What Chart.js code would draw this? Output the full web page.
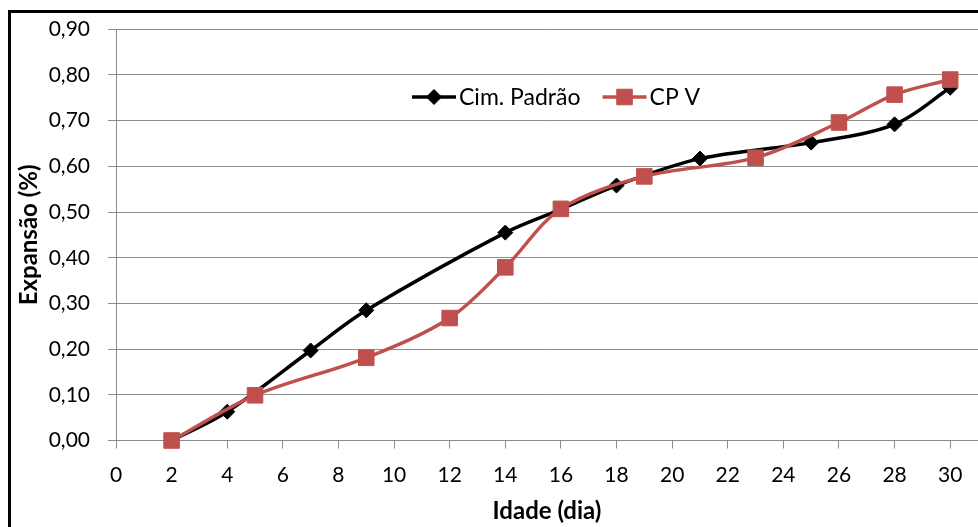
<!DOCTYPE html>
<html>
<head>
<meta charset="utf-8">
<title>Expansão x Idade</title>
<script src="https://cdn.jsdelivr.net/npm/chart.js@4.4.0/dist/chart.umd.min.js"></script>
<style>
html, body { margin: 0; padding: 0; background: #fff; overflow: hidden; }
#moldura { position: absolute; left: 8px; top: 10px; width: 1000px; height: 560px; border-left: 3px solid #000; border-top: 3px solid #000; }
#grafico { position: absolute; left: 0; top: 0; }
</style>
</head>
<body>
<div id="moldura"><canvas id="grafico" width="979" height="520"></canvas></div>
<script>
/* Curvas de expansão (%) pela idade (dias) dos dois cimentos */

// Cim. Padrão
var idadePadrao = [2, 4, 7, 9, 14, 16, 18, 21, 25, 28, 30];
var expansaoPadrao = [0.000, 0.063, 0.197, 0.285, 0.455, 0.506, 0.558, 0.617, 0.652, 0.692, 0.772];

// CP V
var idadeCPV = [2, 5, 9, 12, 14, 16, 19, 23, 26, 28, 30];
var expansaoCPV = [0.000, 0.099, 0.181, 0.268, 0.379, 0.507, 0.578, 0.619, 0.696, 0.757, 0.790];

var nomesSeries = ['Cim. Padrão', 'CP V'];
var ticksIdade = [0, 2, 4, 6, 8, 10, 12, 14, 16, 18, 20, 22, 24, 26, 28, 30];
var tituloX = 'Idade (dia)';
var tituloY = 'Expansão (%)';

var corCinza = '#8c8c8c';
var fonte = 'Lato';

function pontos(xs, ys) {
	var res = [];
	for (var i = 0; i < xs.length; i++) {
		res.push({ x: xs[i], y: ys[i] });
	}
	return res;
}

// legenda desenhada dentro da área do gráfico (linha + marcador + texto)
var legendaInterna = {
	id: 'legendaInterna',
	afterDraw: function (chart) {
		var ctx = chart.ctx;
		var x = 401;
		var y = 84;
		ctx.save();
		ctx.font = '23px ' + fonte;
		ctx.textBaseline = 'middle';
		ctx.textAlign = 'left';
		chart.data.datasets.forEach(function (ds) {
			ctx.strokeStyle = ds.borderColor;
			ctx.lineWidth = ds.borderWidth;
			ctx.beginPath();
			ctx.moveTo(x, y);
			ctx.lineTo(x + 44, y);
			ctx.stroke();
			ctx.fillStyle = ds.pointBackgroundColor;
			ctx.strokeStyle = ds.pointBorderColor;
			ctx.lineWidth = 1;
			Chart.helpers.drawPoint(ctx, { pointStyle: ds.pointStyle, radius: ds.pointRadius, borderWidth: 1, rotation: 0 }, x + 22, y);
			ctx.fillStyle = '#000';
			ctx.fillText(ds.label, x + 47, y + 1);
			x += 47 + ctx.measureText(ds.label).width + 22;
		});
		ctx.restore();
	}
};

var config = {
	type: 'line',
	data: {
		datasets: [{
			label: nomesSeries[0],
			data: pontos(idadePadrao, expansaoPadrao),
			borderColor: '#000',
			borderWidth: 3.5,
			pointStyle: 'rectRot',
			pointRadius: 7.5,
			pointBackgroundColor: '#000',
			pointBorderColor: '#000',
			pointBorderWidth: 1,
			tension: 0.33,
			clip: false,
			order: 1
		}, {
			label: nomesSeries[1],
			data: pontos(idadeCPV, expansaoCPV),
			borderColor: '#c0504d',
			borderWidth: 3.5,
			pointStyle: 'rect',
			pointRadius: 11,
			pointBackgroundColor: '#c0504d',
			pointBorderColor: '#c0504d',
			pointBorderWidth: 1,
			tension: 0.33,
			clip: false,
			order: 0
		}]
	},
	options: {
		responsive: false,
		animation: false,
		layout: { padding: { top: 16.3, right: 0, bottom: 0, left: 0 } },
		plugins: {
			legend: { display: false },
			tooltip: { enabled: false }
		},
		scales: {
			x: {
				type: 'linear',
				min: 0,
				max: 31,
				afterBuildTicks: function (scale) {
					scale.ticks = ticksIdade.map(function (v) { return { value: v }; });
				},
				afterFit: function (scale) { scale.height = 92.5; },
				grid: { drawOnChartArea: false, drawTicks: true, tickLength: 8, color: corCinza, tickColor: corCinza },
				border: { display: true, color: corCinza, width: 1 },
				ticks: { color: '#000', font: { family: fonte, size: 21 }, padding: 14, maxRotation: 0 },
				title: { display: true, text: tituloX, color: '#000', font: { family: fonte, size: 24, weight: 'bold' }, padding: { top: 0, bottom: 7.5 } }
			},
			y: {
				min: 0,
				max: 0.9,
				afterFit: function (scale) {
					scale.width = 105;
					// sem folga extra acima/abaixo: a margem vem só do layout
					scale.paddingTop = 0;
					scale.paddingBottom = 0;
				},
				grid: { drawTicks: true, tickLength: 8, color: corCinza, tickColor: corCinza },
				border: { display: true, color: corCinza, width: 1 },
				ticks: {
					stepSize: 0.1,
					color: '#000',
					font: { family: fonte, size: 21 },
					padding: 18,
					callback: function (v) { return v.toFixed(2).replace('.', ','); }
				},
				title: { display: true, text: tituloY, color: '#000', font: { family: fonte, size: 24, weight: 'bold' }, padding: { top: 4, bottom: 0 } }
			}
		}
	},
	plugins: [legendaInterna]
};

var grafico = new Chart(document.getElementById('grafico'), config);
</script>
</body>
</html>
